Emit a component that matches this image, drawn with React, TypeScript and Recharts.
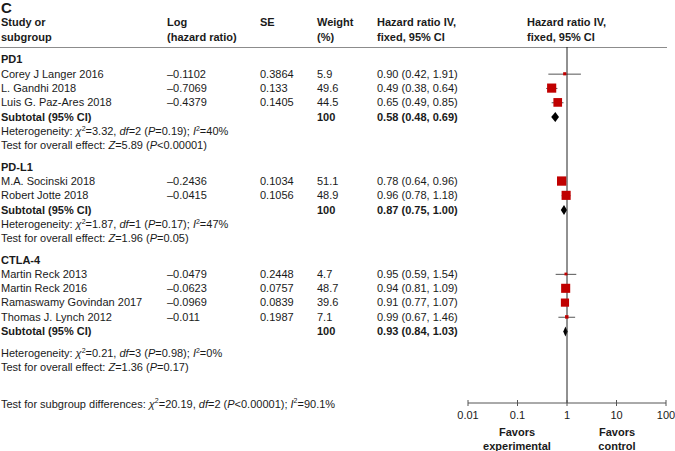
import React from "react";
import { ComposedChart, Bar, Scatter, XAxis, YAxis, ReferenceLine } from "recharts";

const FONT = '"Liberation Sans", Arial, Helvetica, sans-serif';
const TEXT = "#1a1a1a";

const groups = ["PD1", "PD-L1", "CTLA-4"];
const studyNames = [
  "Corey J Langer 2016",
  "L. Gandhi 2018",
  "Luis G. Paz-Ares 2018",
  "M.A. Socinski 2018",
  "Robert Jotte 2018",
  "Martin Reck 2013",
  "Martin Reck 2016",
  "Ramaswamy Govindan 2017",
  "Thomas J. Lynch 2012",
];
const studyGroup = [0, 0, 0, 1, 1, 2, 2, 2, 2];
const logHR = [-0.1102, -0.7069, -0.4379, -0.2436, -0.0415, -0.0479, -0.0623, -0.0969, -0.011];
const seValues = [0.3864, 0.133, 0.1405, 0.1034, 0.1056, 0.2448, 0.0757, 0.0839, 0.1987];
const weights = [5.9, 49.6, 44.5, 51.1, 48.9, 4.7, 48.7, 39.6, 7.1];
const hrValues = [0.9, 0.49, 0.65, 0.78, 0.96, 0.95, 0.94, 0.91, 0.99];
const hrLow = [0.42, 0.38, 0.49, 0.64, 0.78, 0.59, 0.81, 0.77, 0.67];
const hrHigh = [1.91, 0.64, 0.85, 0.96, 1.18, 1.54, 1.09, 1.07, 1.46];

const subtotalHr = [0.58, 0.87, 0.93];
const subtotalLow = [0.48, 0.75, 0.84];
const subtotalHigh = [0.69, 1.0, 1.03];

const hetChi2 = ["3.32", "1.87", "0.21"];
const hetDf = ["2", "1", "3"];
const hetP = ["=0.19", "=0.17", "=0.98"];
const hetI2 = ["40", "47", "0"];
const overallZ = ["5.89", "1.96", "1.36"];
const overallP = ["<0.00001", "=0.05", "=0.17"];

const xTicks = [0.01, 0.1, 1, 10, 100];

// layout: rows are spaced in "row units", with extra gaps between blocks
const hetGap = [1, 1, 1.5];
const COL = { name: 1, log: 167, se: 260, weight: 317, hr: 377 };

type Line = { row: number; kind: "group" | "study" | "subtotal" | "het" | "overall"; g: number; i: number };

const lines: Line[] = [];
let r = 0;
groups.forEach((_, g) => {
  if (g > 0) r += 1.5;
  lines.push({ row: r, kind: "group", g, i: -1 });
  studyNames.forEach((__, i) => {
    if (studyGroup[i] !== g) return;
    r += 1;
    lines.push({ row: r, kind: "study", g, i });
  });
  r += 1;
  lines.push({ row: r, kind: "subtotal", g, i: -1 });
  r += hetGap[g];
  lines.push({ row: r, kind: "het", g, i: -1 });
  r += 1;
  lines.push({ row: r, kind: "overall", g, i: -1 });
});
const lineByRow = new Map(lines.map((l) => [l.row, l]));
const rowTicks = lines.map((l) => l.row);

const ciData = lines
  .filter((l) => l.kind === "study" || l.kind === "subtotal")
  .map((l) =>
    l.kind === "study"
      ? { row: l.row, kind: l.kind, hr: hrValues[l.i], lo: hrLow[l.i], hi: hrHigh[l.i], ci: [hrLow[l.i], hrHigh[l.i]] }
      : { row: l.row, kind: l.kind, hr: subtotalHr[l.g], lo: subtotalLow[l.g], hi: subtotalHigh[l.g], ci: [subtotalLow[l.g], subtotalHigh[l.g]] }
  );

const squareData = lines
  .filter((l) => l.kind === "study")
  .map((l) => ({ row: l.row, hr: hrValues[l.i], weight: weights[l.i] }));

const fmtLog = (v: number) => (v < 0 ? "\u2013" + Math.abs(v) : String(v));
const fmtCi = (hr: number, lo: number, hi: number) => `${hr.toFixed(2)} (${lo.toFixed(2)}, ${hi.toFixed(2)})`;

const it = (s: string) => <tspan fontStyle="italic">{s}</tspan>;
const sup = (s: string, rest: string) => (
  <>
    <tspan dy={-4} fontSize={7}>{s}</tspan>
    <tspan dy={4}>{rest}</tspan>
  </>
);

function RowTick(props: any) {
  const line = lineByRow.get(props.payload?.value);
  if (!line) return null;
  const y = props.y;
  const base = { y, dy: "0.35em", fontSize: 11, fontFamily: FONT, fill: TEXT };
  if (line.kind === "group") {
    return <text x={COL.name} {...base} fontWeight={700}>{groups[line.g]}</text>;
  }
  if (line.kind === "study") {
    const i = line.i;
    return (
      <g>
        <text x={COL.name} {...base}>{studyNames[i]}</text>
        <text x={COL.log} {...base}>{fmtLog(logHR[i])}</text>
        <text x={COL.se} {...base}>{seValues[i]}</text>
        <text x={COL.weight} {...base}>{weights[i]}</text>
        <text x={COL.hr} {...base}>{fmtCi(hrValues[i], hrLow[i], hrHigh[i])}</text>
      </g>
    );
  }
  if (line.kind === "subtotal") {
    const g = line.g;
    return (
      <g fontWeight={700}>
        <text x={COL.name} {...base}>Subtotal (95% CI)</text>
        <text x={COL.weight} {...base}>100</text>
        <text x={COL.hr} {...base}>{fmtCi(subtotalHr[g], subtotalLow[g], subtotalHigh[g])}</text>
      </g>
    );
  }
  if (line.kind === "het") {
    const g = line.g;
    return (
      <text x={COL.name} {...base}>
        {"Heterogeneity: "}
        {it("\u03c7")}
        {sup("2", `=${hetChi2[g]}, `)}
        {it("df")}
        {`=${hetDf[g]} (`}
        {it("P")}
        {`${hetP[g]}); `}
        {it("I")}
        {sup("2", `=${hetI2[g]}%`)}
      </text>
    );
  }
  const g = line.g;
  return (
    <text x={COL.name} {...base}>
      {"Test for overall effect: "}
      {it("Z")}
      {`=${overallZ[g]} (`}
      {it("P")}
      {`${overallP[g]})`}
    </text>
  );
}

function AxisTick(props: any) {
  const { x, y, payload } = props;
  return (
    <g>
      <line x1={x} x2={x} y1={y - 3} y2={y + 3} stroke="#555" />
      <text x={x} y={y + 12} dy="0.35em" textAnchor="middle" fontSize={11} fontFamily={FONT} fill={TEXT}>
        {payload.value}
      </text>
    </g>
  );
}

function CiShape(props: any) {
  const { x, y, width, height, payload } = props;
  if (payload == null || width == null) return null;
  const cy = y + height / 2;
  if (payload.kind === "subtotal") {
    const t = (Math.log(payload.hr) - Math.log(payload.lo)) / (Math.log(payload.hi) - Math.log(payload.lo));
    const cx = x + width * t;
    const h = 5;
    return <polygon points={`${x},${cy} ${cx},${cy - h} ${x + width},${cy} ${cx},${cy + h}`} fill="#000" />;
  }
  return <line x1={x} x2={x + width} y1={cy} y2={cy} stroke="#555" strokeWidth={1} />;
}

function SquareShape(props: any) {
  const { cx, cy, payload } = props;
  const s = 1.3 * Math.sqrt(payload.weight);
  return <rect x={cx - s / 2} y={cy - s / 2} width={s} height={s} fill="#c00000" />;
}

const abs = (left: number, top: number, extra: React.CSSProperties = {}): React.CSSProperties => ({
  position: "absolute",
  left,
  top,
  whiteSpace: "nowrap",
  lineHeight: "15px",
  ...extra,
});

export default function App() {
  return (
    <div style={{ position: "absolute", left: 0, top: 0, width: 675, height: 451, fontFamily: FONT, fontSize: 11, color: TEXT, background: "#fff" }}>
      <div style={abs(1, 0, { fontSize: 15, fontWeight: 700, lineHeight: "15px" })}>C</div>
      <div style={abs(COL.name, 15, { fontWeight: 700 })}>Study or<br />subgroup</div>
      <div style={abs(COL.log, 15, { fontWeight: 700 })}>Log<br />(hazard ratio)</div>
      <div style={abs(COL.se, 15, { fontWeight: 700 })}>SE</div>
      <div style={abs(COL.weight, 15, { fontWeight: 700 })}>Weight<br />(%)</div>
      <div style={abs(COL.hr, 15, { fontWeight: 700 })}>Hazard ratio IV,<br />fixed, 95% CI</div>
      <div style={abs(527, 15, { fontWeight: 700 })}>Hazard ratio IV,<br />fixed, 95% CI</div>
      <div style={{ position: "absolute", left: 0, top: 47, width: 667, borderTop: "1px solid #8c8c8c" }} />

      <div style={{ position: "absolute", left: 0, top: 0 }}>
        <ComposedChart
          width={675}
          height={451}
          layout="vertical"
          data={ciData}
          margin={{ top: 47, right: 9, bottom: 18, left: 0 }}
        >
          <XAxis
            type="number"
            dataKey="hr"
            scale="log"
            domain={[0.01, 100]}
            allowDataOverflow
            ticks={xTicks}
            interval={0}
            tick={AxisTick}
            tickLine={false}
            tickSize={0}
            tickMargin={0}
            axisLine={{ stroke: "#555" }}
            height={30}
          />
          <YAxis
            type="number"
            dataKey="row"
            domain={[-0.874, 24.02]}
            allowDataOverflow
            ticks={rowTicks}
            interval={0}
            tick={RowTick}
            tickLine={false}
            axisLine={false}
            width={468}
          />
          <ReferenceLine x={1} stroke="#222" />
          <Bar dataKey="ci" barSize={9} shape={CiShape} isAnimationActive={false} />
          <Scatter data={squareData} shape={SquareShape} isAnimationActive={false} />
        </ComposedChart>
      </div>

      <div style={abs(1, 396.5)}>
        {"Test for subgroup differences: "}
        <i>{"\u03c7"}</i>
        <sup style={{ fontSize: 7, lineHeight: 0 }}>2</sup>
        {"=20.19, "}
        <i>df</i>
        {"=2 ("}
        <i>P</i>
        {"<0.00001); "}
        <i>I</i>
        <sup style={{ fontSize: 7, lineHeight: 0 }}>2</sup>
        {"=90.1%"}
      </div>
      <div style={abs(467, 424.5, { width: 100, textAlign: "center", fontWeight: 700, lineHeight: "14px" })}>
        Favors<br />experimental
      </div>
      <div style={abs(567, 424.5, { width: 100, textAlign: "center", fontWeight: 700, lineHeight: "14px" })}>
        Favors<br />control
      </div>
    </div>
  );
}
